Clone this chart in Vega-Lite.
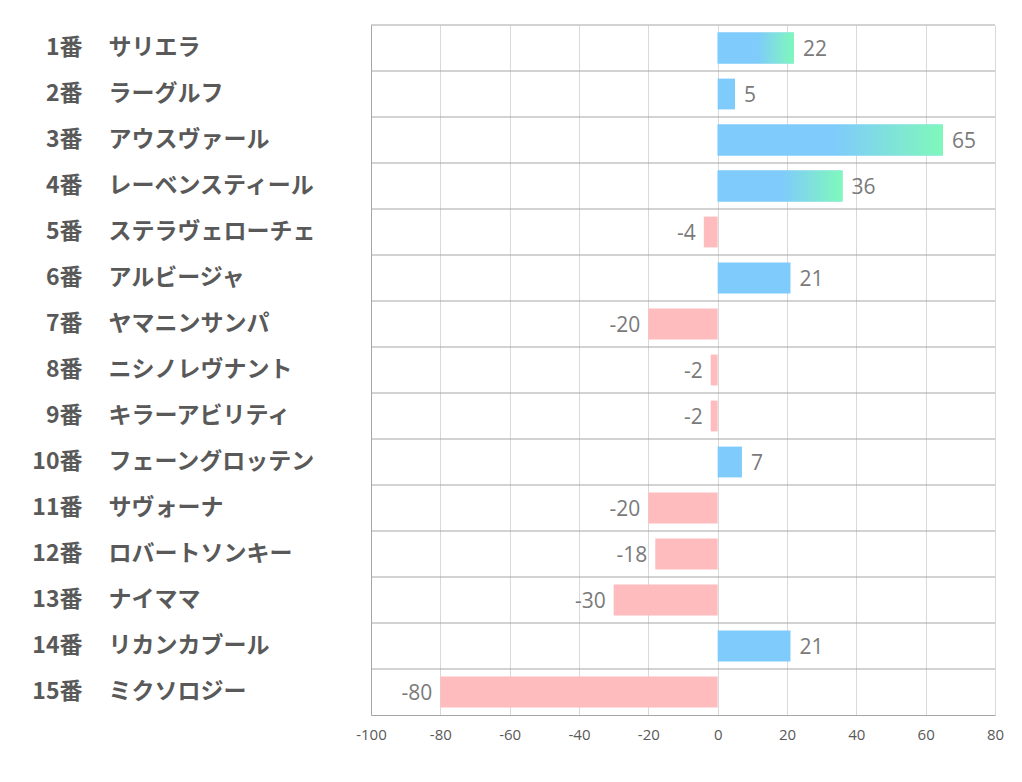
{
  "$schema": "https://vega.github.io/schema/vega-lite/v6.json",
  "width": 624,
  "height": 690,
  "autosize": {"type": "none"},
  "padding": {"left": 371, "top": 25, "right": 27, "bottom": 67},
  "background": "#ffffff",
  "config": {"view": {"stroke": null}},
  "data": {"values": [
    {"no": 1, "label": "1番　サリエラ", "value": 22},
    {"no": 2, "label": "2番　ラーグルフ", "value": 5},
    {"no": 3, "label": "3番　アウスヴァール", "value": 65},
    {"no": 4, "label": "4番　レーベンスティール", "value": 36},
    {"no": 5, "label": "5番　ステラヴェローチェ", "value": -4},
    {"no": 6, "label": "6番　アルビージャ", "value": 21},
    {"no": 7, "label": "7番　ヤマニンサンパ", "value": -20},
    {"no": 8, "label": "8番　ニシノレヴナント", "value": -2},
    {"no": 9, "label": "9番　キラーアビリティ", "value": -2},
    {"no": 10, "label": "10番　フェーングロッテン", "value": 7},
    {"no": 11, "label": "11番　サヴォーナ", "value": -20},
    {"no": 12, "label": "12番　ロバートソンキー", "value": -18},
    {"no": 13, "label": "13番　ナイママ", "value": -30},
    {"no": 14, "label": "14番　リカンカブール", "value": 21},
    {"no": 15, "label": "15番　ミクソロジー", "value": -80}
  ]},
  "resolve": {"axis": {"y": "independent"}},
  "layer": [
    {
      "mark": {"type": "rule", "color": "#a6a6a6", "strokeWidth": 1},
      "encoding": {
        "y": {"field": "label", "type": "nominal", "sort": {"field": "no", "op": "min"}, "bandPosition": 0,
              "scale": {"paddingInner": 0, "paddingOuter": 0},
              "axis": {"orient": "left", "labelExpr": "split(datum.value, '　')[0]", "labelAlign": "right", "labelPadding": 289, "labelLimit": 0, "labelFontSize": 23, "labelFont": "Noto Sans CJK JP", "labelFontWeight": "bold", "labelColor": "#595959", "ticks": false, "domain": true, "domainColor": "#a6a6a6", "grid": false, "title": null, "labelBaseline": "middle"}}
      }
    },
    {
      "mark": {"type": "bar", "height": {"band": 0.67}},
      "encoding": {
        "y": {"field": "label", "type": "nominal", "sort": {"field": "no", "op": "min"},
              "axis": {"orient": "left", "labelExpr": "split(datum.value, '　')[1]", "labelAlign": "left", "labelPadding": 263, "labelLimit": 0, "labelFontSize": 23, "labelFont": "Noto Sans CJK JP", "labelFontWeight": "bold", "labelColor": "#595959", "ticks": false, "domain": false, "grid": false, "title": null, "labelBaseline": "middle"}},
        "x": {"field": "value", "type": "quantitative",
              "scale": {"domain": [-100, 80], "nice": false, "zero": false},
              "axis": {"values": [-100, -80, -60, -40, -20, 0, 20, 40, 60, 80], "labelExpr": "'' + datum.value", "labelFlush": false, "ticks": false, "grid": true, "gridColor": "#d9d9d9", "domainColor": "#a6a6a6", "labelFontSize": 15, "labelFont": "Open Sans", "labelColor": "#595959", "labelPadding": 12, "title": null}},
        "color": {"condition": {"test": "datum.value < 0", "value": "#ffbcbf"}, "value": "#7fcbfb"}
      }
    },
    {
      "transform": [{"filter": "datum.value > 21"}],
      "mark": {"type": "bar", "height": {"band": 0.67},
        "color": {"gradient": "linear", "x1": 0, "y1": 0, "x2": 1, "y2": 0,
          "stops": [{"offset": 0, "color": "#7fcbfb"}, {"offset": 0.52, "color": "#7fcbfb"}, {"offset": 1, "color": "#7ff8bb"}]}},
      "encoding": {
        "y": {"field": "label", "type": "nominal", "sort": {"field": "no", "op": "min"}, "axis": null},
        "x": {"field": "value", "type": "quantitative"}
      }
    },
    {
      "transform": [{"filter": "datum.value >= 0"}],
      "mark": {"type": "text", "align": "left", "dx": 9, "dy": 2, "fontSize": 21, "font": "Open Sans", "color": "#7a7a7a", "baseline": "middle"},
      "encoding": {
        "y": {"field": "label", "type": "nominal", "sort": {"field": "no", "op": "min"}, "axis": null},
        "x": {"field": "value", "type": "quantitative"},
        "text": {"field": "value", "type": "nominal"}
      }
    },
    {
      "transform": [{"filter": "datum.value < 0"}],
      "mark": {"type": "text", "align": "right", "dx": -8, "dy": 2, "fontSize": 21, "font": "Open Sans", "color": "#7a7a7a", "baseline": "middle"},
      "encoding": {
        "y": {"field": "label", "type": "nominal", "sort": {"field": "no", "op": "min"}, "axis": null},
        "x": {"field": "value", "type": "quantitative"},
        "text": {"field": "value", "type": "nominal"}
      }
    }
  ]
}
